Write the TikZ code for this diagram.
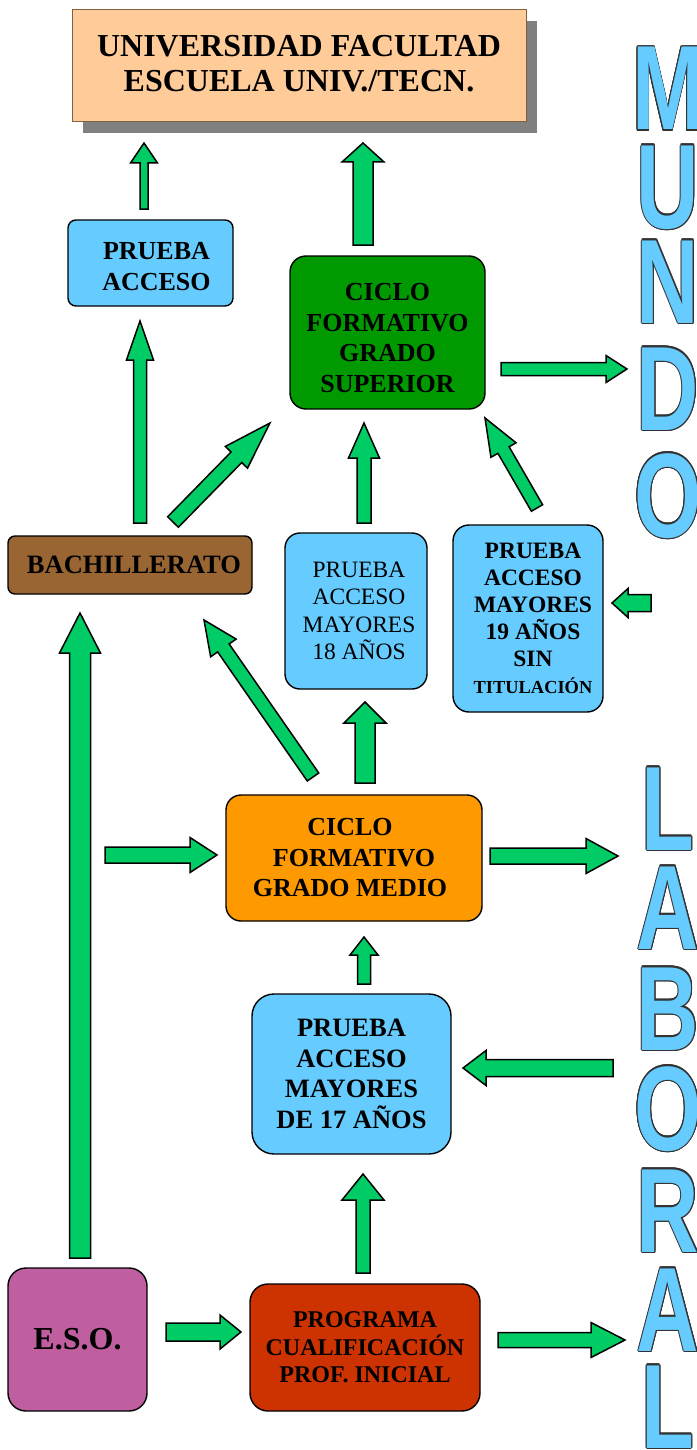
\documentclass[tikz,border=0pt]{standalone}
\usepackage{fontspec}
\setmainfont{Liberation Serif}
\setsansfont{Liberation Sans}
\usepackage[copies]{contour}
\usetikzlibrary{calc}

\definecolor{azul}{HTML}{66CCFF}
\definecolor{verde}{HTML}{00CC66}
\definecolor{verdeosc}{HTML}{009900}
\definecolor{naranja}{HTML}{FF9900}
\definecolor{marron}{HTML}{996633}
\definecolor{malva}{HTML}{BF5FA0}
\definecolor{rojo}{HTML}{CC3300}
\definecolor{melocoton}{HTML}{FFCC99}
\definecolor{sombra}{HTML}{808080}
\definecolor{borde}{HTML}{7F6040}
\definecolor{contorno}{HTML}{333333}

\contourlength{1.2pt}
\newcommand{\tam}[2]{\fontsize{#1}{#2}\selectfont}

\tikzset{
	caja/.style={draw=black, line width=1.4pt, align=center, inner sep=0pt},
	flechaverde/.style={draw=black, line width=1.5pt, fill=verde, line join=miter},
	letra/.style={anchor=base, inner sep=0pt, text=azul, xscale=0.72, font=\sffamily\bfseries\tam{120}{120}}
}

% block arrow: from, to, half shaft, half head, head length
\newcommand{\flecha}[5]{%
	\path ($(#2)!#5pt!(#1)$) coordinate (fb);
	\draw[flechaverde] ($(#1)!#3pt!90:(#2)$) -- ($(fb)!#3pt!90:(#2)$) -- ($(fb)!#4pt!90:(#2)$) -- (#2)
		-- ($(fb)!#4pt!-90:(#2)$) -- ($(fb)!#3pt!-90:(#2)$) -- ($(#1)!#3pt!-90:(#2)$) -- cycle;
}

\begin{document}
\begin{tikzpicture}[x=1pt,y=-1pt]
	\useasboundingbox (0,0) rectangle (696,1450);
	
	%Universidad
	\fill[sombra] (83,21) rectangle (537,133);
	\node[caja, draw=borde, line width=1pt, fill=melocoton, minimum width=454pt, minimum height=112pt, font=\bfseries\tam{32}{35}] (univ) at (299,66) {UNIVERSIDAD FACULTAD\\ESCUELA UNIV./TECN.\rule[-6pt]{0pt}{0pt}};
	
	%Boxes
	\node[caja, fill=azul, rounded corners=8pt, minimum width=165pt, minimum height=86pt, font=\bfseries\tam{26}{31}] (pacc) at (150.5,263) {\rule{0pt}{24pt}\hspace*{12pt}PRUEBA\\\hspace*{12pt}ACCESO};
	\node[caja, fill=verdeosc, rounded corners=16pt, minimum width=195pt, minimum height=153pt, font=\bfseries\tam{26}{30.5}] (cfgs) at (387.5,332.5) {\rule{0pt}{28pt}CICLO\\FORMATIVO\\GRADO\\SUPERIOR};
	\node[caja, fill=marron, rounded corners=7pt, minimum width=244pt, minimum height=58pt, font=\bfseries\tam{26.5}{30}] (bach) at (130,565) {\hspace{8pt}BACHILLERATO};
	\node[caja, fill=azul, rounded corners=15pt, minimum width=142pt, minimum height=156pt, font=\tam{23.5}{27.5}] (pa18) at (356,611) {\hspace*{6pt}PRUEBA\\\hspace*{6pt}ACCESO\\\hspace*{6pt}MAYORES\\\hspace*{6pt}18 AÑOS};
	\node[caja, fill=azul, rounded corners=16pt, minimum width=150pt, minimum height=187pt, font=\bfseries\tam{23.5}{27}] (pa19) at (528,618.5) {\hspace*{10pt}PRUEBA\\\hspace*{10pt}ACCESO\\\hspace*{10pt}MAYORES\\\hspace*{10pt}19 AÑOS\\\hspace*{10pt}SIN\\\hspace*{10pt}{\tam{18.4}{25}TITULACIÓN}};
	\node[caja, fill=naranja, rounded corners=15pt, minimum width=256pt, minimum height=126pt, font=\bfseries\tam{26}{30.5}] (cfgm) at (354,858) {CICLO\hspace*{8pt}\\FORMATIVO\hspace*{8pt}\\GRADO MEDIO\hspace*{8pt}};
	\node[caja, fill=azul, rounded corners=22pt, minimum width=199pt, minimum height=160pt, font=\bfseries\tam{26.5}{30.5}] (pa17) at (351.5,1074) {PRUEBA\\ACCESO\\MAYORES\\DE 17 AÑOS};
	\node[caja, fill=malva, rounded corners=18pt, minimum width=139pt, minimum height=143pt, font=\bfseries\tam{32}{35}] (eso) at (77.5,1339.5) {E.S.O.};
	\node[caja, fill=rojo, rounded corners=18pt, minimum width=230pt, minimum height=127pt, font=\bfseries\tam{24}{27.5}] (pcpi) at (365,1347.5) {PROGRAMA\\CUALIFICACIÓN\\PROF. INICIAL};
	
	%Arrow ends
	\coordinate (pacc-o) at (144,209);  \coordinate (univ-i1) at (144,143);
	\coordinate (bach-o1) at (140,523); \coordinate (pacc-i) at (140,321);
	\coordinate (bach-o2) at (173,522); \coordinate (cfgs-i1) at (270,423);
	\coordinate (cfgs-o1) at (363,245); \coordinate (univ-i2) at (363,143);
	\coordinate (cfgs-o2) at (501,369); \coordinate (mundo-i1) at (627,369);
	\coordinate (pa18-o) at (364,523);  \coordinate (cfgs-i2) at (364,423);
	\coordinate (pa19-o) at (537,508);  \coordinate (cfgs-i3) at (485,418);
	\coordinate (mundo-o) at (651,603); \coordinate (pa19-i) at (612,603);
	\coordinate (eso-o1) at (80,1258);  \coordinate (bach-i1) at (80,613);
	\coordinate (cfgm-o1) at (313,777); \coordinate (bach-i2) at (204,620);
	\coordinate (cfgm-o2) at (365,783); \coordinate (pa18-i) at (365,702);
	\coordinate (cfgm-in) at (105,855); \coordinate (cfgm-i) at (217,855);
	\coordinate (cfgm-o3) at (490,856); \coordinate (lab-i1) at (618,856);
	\coordinate (pa17-o) at (364,984);  \coordinate (cfgm-i2) at (364,937);
	\coordinate (lab-o) at (613,1068);  \coordinate (pa17-i1) at (463,1068);
	\coordinate (pcpi-o1) at (363,1273); \coordinate (pa17-i2) at (363,1174);
	\coordinate (eso-o2) at (166,1332); \coordinate (pcpi-i) at (241,1332);
	\coordinate (pcpi-o2) at (498,1340); \coordinate (lab-i2) at (625,1340);
	
	%Arrows
	\flecha{pacc-o}{univ-i1}{4}{13.5}{20}
	\flecha{bach-o1}{pacc-i}{6.5}{13.5}{39}
	\flecha{bach-o2}{cfgs-i1}{7.5}{15.5}{48}
	\flecha{cfgs-o1}{univ-i2}{10}{21}{19}
	\flecha{cfgs-o2}{mundo-i1}{6.5}{13.5}{21}
	\flecha{pa18-o}{cfgs-i2}{7}{15.5}{35}
	\flecha{pa19-o}{cfgs-i3}{6.5}{14.5}{37}
	\flecha{mundo-o}{pa19-i}{8.5}{14.5}{16}
	\flecha{eso-o1}{bach-i1}{10.5}{20.5}{40}
	\flecha{cfgm-o1}{bach-i2}{7}{15.5}{34}
	\flecha{cfgm-o2}{pa18-i}{10}{21}{21}
	\flecha{cfgm-in}{cfgm-i}{8}{17.5}{27}
	\flecha{cfgm-o3}{lab-i1}{8}{17.5}{32}
	\flecha{pa17-o}{cfgm-i2}{6.5}{14}{18}
	\flecha{lab-o}{pa17-i1}{8.5}{17.5}{23}
	\flecha{pcpi-o1}{pa17-i2}{7}{21}{26}
	\flecha{eso-o2}{pcpi-i}{9}{17}{21}
	\flecha{pcpi-o2}{lab-i2}{7.5}{17.5}{34}
	
	%Mundo
	\node[letra] (m1) at (668,130) {\contour{contorno}{M}};
	\node[letra] (m2) at (668,228) {\contour{contorno}{U}};
	\node[letra] (m3) at (668,323) {\contour{contorno}{N}};
	\node[letra] (m4) at (668,430) {\contour{contorno}{D}};
	\node[letra] (m5) at (668,537) {\contour{contorno}{O}};
	
	%Laboral
	\node[letra] (l1) at (668,850) {\contour{contorno}{L}};
	\node[letra] (l2) at (668,949) {\contour{contorno}{A}};
	\node[letra] (l3) at (668,1050) {\contour{contorno}{B}};
	\node[letra] (l4) at (668,1150) {\contour{contorno}{O}};
	\node[letra] (l5) at (668,1252) {\contour{contorno}{R}};
	\node[letra] (l6) at (668,1351) {\contour{contorno}{A}};
	\node[letra] (l7) at (668,1448) {\contour{contorno}{L}};
	
\end{tikzpicture}
\end{document}
